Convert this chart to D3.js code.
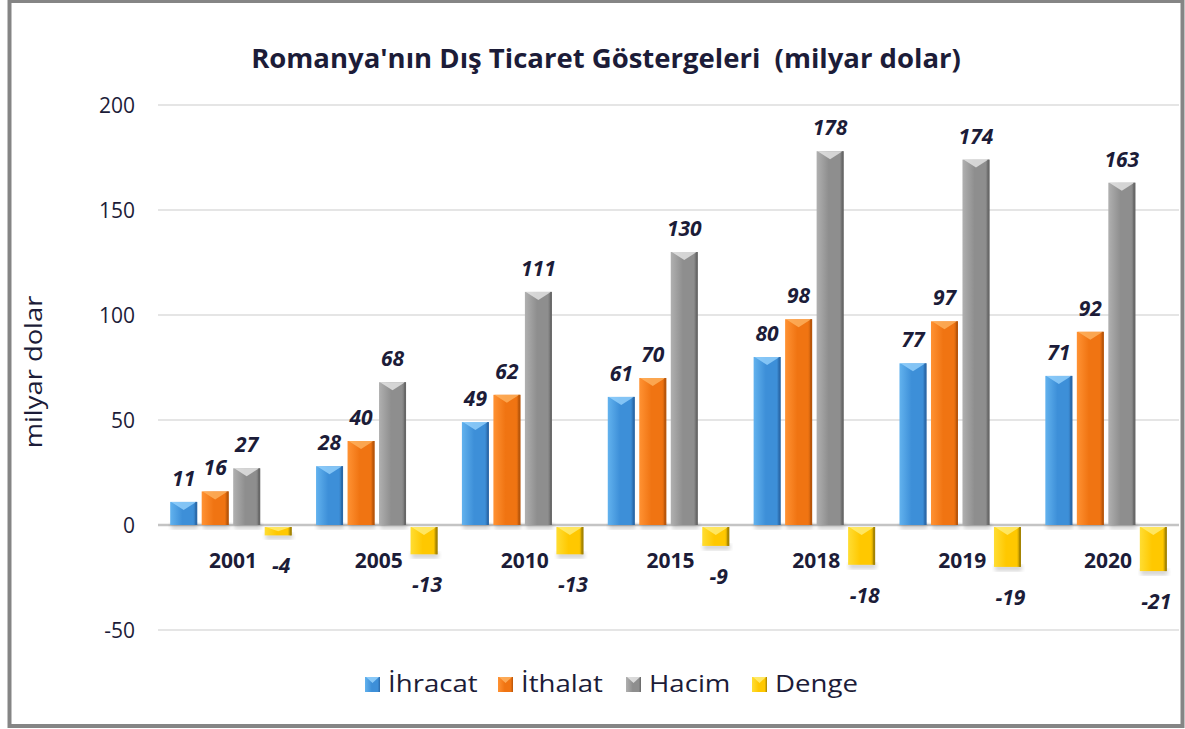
<!DOCTYPE html>
<meta charset="utf-8">
<style>
html, body { margin: 0; padding: 0; background: #fff; overflow: hidden; }
svg { display: block; }
text { font-family: "Open Sans", "Noto Sans", sans-serif; fill: #1c1c38; white-space: pre; }
</style>
<svg width="1185" height="729"></svg>
<script src="https://d3js.org/d3.v7.min.js"></script>
<script>
var years = ["2001", "2005", "2010", "2015", "2018", "2019", "2020"];
var seriesNames = ["İhracat", "İthalat", "Hacim", "Denge"];
var ihracat = [11, 28, 49, 61, 80, 77, 71];
var ithalat = [16, 40, 62, 70, 98, 97, 92];
var hacim = [27, 68, 111, 130, 178, 174, 163];
var denge = [-4, -13, -13, -9, -18, -19, -21];
var yTicks = [-50, 0, 50, 100, 150, 200];

var allSeries = [ihracat, ithalat, hacim, denge];
// left / mid / right / top bevel
var palette = [
    ["#62b2ee", "#3d8fd8", "#2a67a6", "#9bd6ff"],
    ["#ff9233", "#f07412", "#b5540a", "#ffb766"],
    ["#b0b0b0", "#8e8e8e", "#656565", "#ececec"],
    ["#ffdd33", "#ffc800", "#a08000", "#fff080"]
];

var svg = d3.select("svg");
var defs = svg.append("defs");

palette.forEach(function(c, i) {
    var g = defs.append("linearGradient").attr("id", "g" + i)
        .attr("x1", "0").attr("x2", "1").attr("y1", "0").attr("y2", "0");
    g.append("stop").attr("offset", "0").attr("stop-color", c[0]);
    g.append("stop").attr("offset", "0.45").attr("stop-color", c[1]);
    g.append("stop").attr("offset", "0.85").attr("stop-color", c[1]);
    g.append("stop").attr("offset", "1").attr("stop-color", c[2]);
});
defs.append("filter").attr("id", "blur")
    .append("feGaussianBlur").attr("stdDeviation", 2);

// outer frame
svg.append("rect")
    .attr("x", 9.5).attr("y", 1).attr("width", 1173).attr("height", 725)
    .attr("fill", "#fff").attr("stroke", "#858585").attr("stroke-width", 4);

var x0 = d3.scaleBand().domain(years).range([158, 1179]).padding(0);
var x1 = d3.scaleBand().domain(d3.range(4)).range([0, x0.bandwidth()])
    .paddingInner(0.143).paddingOuter(0.387);
var y = d3.scaleLinear().domain([-50, 200]).range([630, 105]);

// gridlines
svg.append("g").selectAll("line").data(yTicks).enter().append("line")
    .attr("x1", 158).attr("x2", 1179)
    .attr("y1", function(d) { return y(d); })
    .attr("y2", function(d) { return y(d); })
    .attr("stroke", function(d) { return d === 0 ? "#c4c4c4" : "#dcdcdc"; })
    .attr("stroke-width", function(d) { return d === 0 ? 2.5 : 1.5; });

// y tick labels
svg.append("g").selectAll("text").data(yTicks).enter().append("text")
    .attr("x", 135).attr("y", function(d) { return y(d); })
    .attr("dy", "0.36em").attr("text-anchor", "end")
    .style("font-size", "21px")
    .text(function(d) { return d; });

svg.append("text")
    .attr("transform", "translate(42,372) rotate(-90) scale(1.14,1)")
    .attr("text-anchor", "middle")
    .style("font-size", "24px")
    .text("milyar dolar");

svg.append("text")
    .attr("x", 606).attr("y", 68).attr("text-anchor", "middle")
    .style("font-size", "27.5px").style("font-weight", "bold")
    .text("Romanya'nın Dış Ticaret Göstergeleri  (milyar dolar)");

// category labels
svg.append("g").selectAll("text").data(years).enter().append("text")
    .attr("x", function(d) { return x0(d) + x0.bandwidth() / 2 + 2; })
    .attr("y", 568).attr("text-anchor", "middle")
    .style("font-size", "21px").style("font-weight", "bold")
    .text(function(d) { return d; });

function drawBar(g, bx, by, w, h, si) {
    var c = palette[si];
    // shadow
    g.append("rect")
        .attr("x", bx + 1).attr("y", by + h - 2).attr("width", w).attr("height", 6)
        .attr("fill", "#000").attr("opacity", 0.18).attr("filter", "url(#blur)");
    g.append("rect")
        .attr("x", bx).attr("y", by).attr("width", w).attr("height", h)
        .attr("fill", "url(#g" + si + ")");
    var bev = Math.min(8, h / 2);
    g.append("polygon")
        .attr("points", [[bx + 1, by], [bx + w - 1, by], [bx + w / 2, by + bev]].join(" "))
        .attr("fill", c[3]).attr("opacity", 0.75);
    g.append("rect")
        .attr("x", bx + w - 2).attr("y", by).attr("width", 2).attr("height", h)
        .attr("fill", c[2]).attr("opacity", 0.7);
}

var groups = svg.append("g").selectAll("g").data(years).enter().append("g")
    .attr("transform", function(d) { return "translate(" + x0(d) + ",0)"; });

groups.each(function(yr, i) {
    var g = d3.select(this);
    allSeries.forEach(function(s, si) {
        var v = s[i];
        var bx = x1(si), w = x1.bandwidth();
        var top = v >= 0 ? y(v) : y(0) + 2;
        var h = Math.abs(y(v) - y(0));
        drawBar(g, bx, top, w, Math.max(h, 3), si);
        var ly = v >= 0 ? y(v) - 16 : y(v) + 40;
        g.append("text")
            .attr("x", bx + w / 2 + (v >= 0 ? 0 : 3)).attr("y", ly)
            .attr("text-anchor", "middle")
            .style("font-size", "21px").style("font-weight", "bold").style("font-style", "italic")
            .text(v);
    });
});

// legend
var legendX = [365, 498, 626, 752];
var legend = svg.append("g").selectAll("g").data(seriesNames).enter().append("g")
    .attr("transform", function(d, i) { return "translate(" + legendX[i] + ",677)"; });
legend.each(function(d, i) {
    var g = d3.select(this);
    var c = palette[i];
    g.append("rect").attr("width", 15).attr("height", 15).attr("fill", "url(#g" + i + ")");
    g.append("polygon").attr("points", "1,0 14,0 7.5,6").attr("fill", c[3]).attr("opacity", 0.8);
    g.append("text").attr("transform", "translate(23,15) scale(1.15,1)")
        .style("font-size", "24px").text(d);
});
</script>
